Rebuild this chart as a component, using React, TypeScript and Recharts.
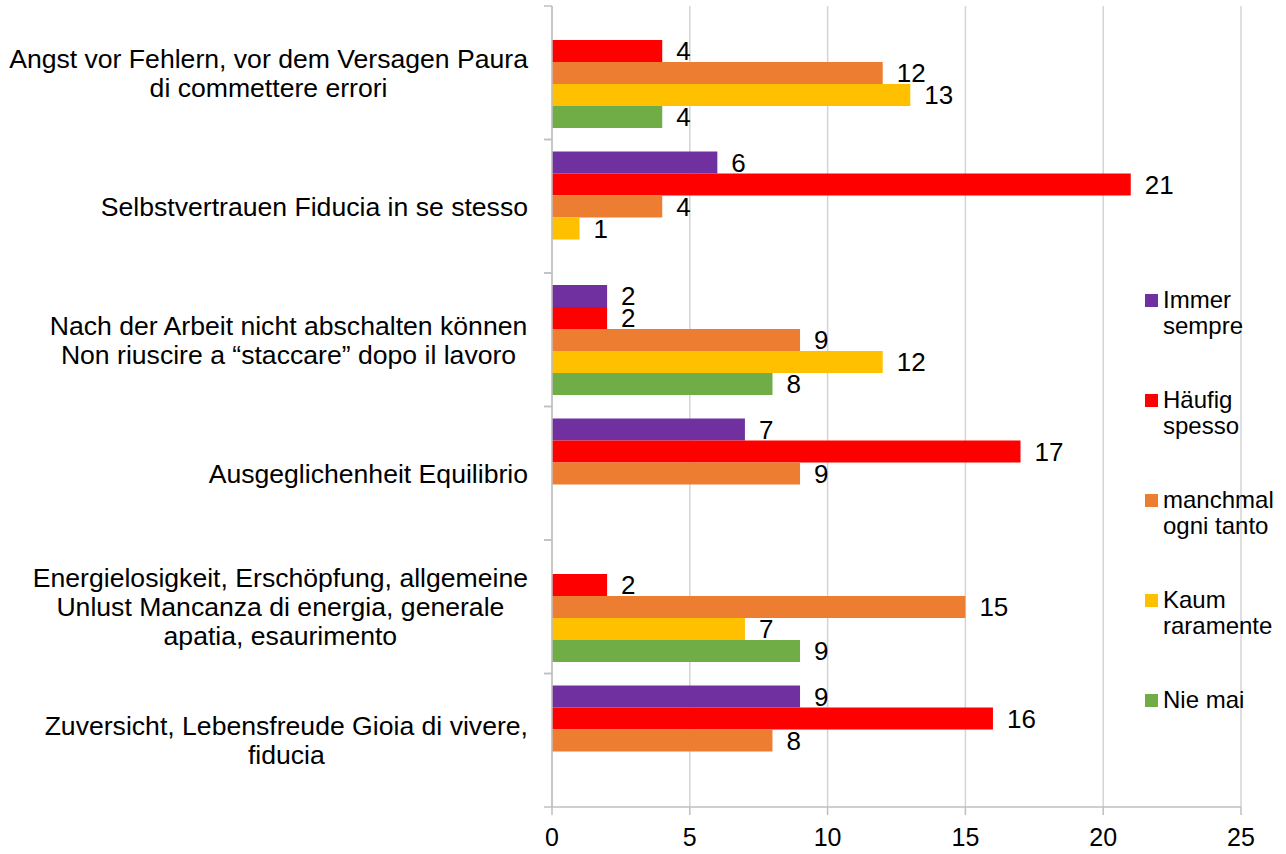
import React from "react";
import {
  BarChart,
  Bar,
  XAxis,
  YAxis,
  CartesianGrid,
  LabelList,
  Legend,
} from "recharts";

const categories = [
  "Angst vor Fehlern, vor dem Versagen Paura\ndi commettere errori",
  "Selbstvertrauen Fiducia in se stesso",
  "Nach der Arbeit nicht abschalten können\nNon riuscire a “staccare” dopo il lavoro",
  "Ausgeglichenheit Equilibrio",
  "Energielosigkeit, Erschöpfung, allgemeine\nUnlust Mancanza di energia, generale\napatia, esaurimento",
  "Zuversicht, Lebensfreude Gioia di vivere,\nfiducia",
];

const seriesNames = [
  "Immer sempre",
  "Häufig spesso",
  "manchmal ogni tanto",
  "Kaum raramente",
  "Nie mai",
];
const seriesColors = ["#7030A0", "#FF0000", "#ED7D31", "#FFC000", "#70AD47"];

const immer = [null, 6, 2, 7, null, 9];
const haeufig = [4, 21, 2, 17, 2, 16];
const manchmal = [12, 4, 9, 9, 15, 8];
const kaum = [13, 1, 12, null, 7, null];
const nie = [4, null, 8, null, 9, null];

const xTicks = [0, 5, 10, 15, 20, 25];

const seriesValues = [immer, haeufig, manchmal, kaum, nie];
const seriesKeys = ["s0", "s1", "s2", "s3", "s4"];

const data = categories.map((name, i) => {
  const row: any = { name };
  seriesKeys.forEach((k, j) => {
    row[k] = seriesValues[j][i];
  });
  return row;
});

const W = 1286;
const H = 854;
const MARGIN = { top: 6, right: 45, bottom: 0, left: 0 };
const Y_AXIS_W = 552;
const X_AXIS_H = 47;
const PLOT_H = H - MARGIN.top - MARGIN.bottom - X_AXIS_H;
const BAND = PLOT_H / categories.length;

const FONT = '"Liberation Sans", Arial, sans-serif';
const AXIS_COLOR = "#bfbfbf";
const GRID_COLOR = "#d4d4d4";
const CAT_FONT_SIZE = 26.6;
const LINE_H = 29;

let measureCtx: CanvasRenderingContext2D | null = null;
function measure(text: string): number {
  if (!measureCtx) {
    const c = document.createElement("canvas");
    measureCtx = c.getContext("2d");
  }
  if (!measureCtx) return text.length * CAT_FONT_SIZE * 0.5;
  measureCtx.font = `${CAT_FONT_SIZE}px "Liberation Sans", Arial, sans-serif`;
  return measureCtx.measureText(text).width;
}

const CategoryTick = (props: any) => {
  const { x, y, payload } = props;
  const lines: string[] = String(payload.value).split("\n");
  const maxW = Math.max(...lines.map(measure));
  const cx = x - maxW / 2;
  const startY = y - ((lines.length - 1) * LINE_H) / 2;
  const half = BAND / 2;
  return (
    <g>
      <line x1={x + 16} x2={x + 24} y1={y - half} y2={y - half} stroke={AXIS_COLOR} strokeWidth={1.5} />
      <line x1={x + 16} x2={x + 24} y1={y + half} y2={y + half} stroke={AXIS_COLOR} strokeWidth={1.5} />
      <text
        x={cx}
        y={startY}
        textAnchor="middle"
        fill="#000"
        fontSize={CAT_FONT_SIZE}
        fontFamily={FONT}
      >
        {lines.map((l, i) => (
          <tspan key={i} x={cx} y={startY + i * LINE_H} dy="0.35em">
            {l}
          </tspan>
        ))}
      </text>
    </g>
  );
};

const LegendContent = () => {
  return (
    <div style={{ fontFamily: FONT, fontSize: 24, lineHeight: "26px", color: "#000" }}>
      {seriesNames.map((name, i) => (
        <div key={i} style={{ height: 100, display: "flex", alignItems: "flex-start" }}>
          <div
            style={{
              width: 13,
              height: 13,
              marginTop: 7,
              background: seriesColors[i],
              flex: "0 0 13px",
            }}
          />
          <div style={{ marginLeft: 5, width: 118 }}>{name}</div>
        </div>
      ))}
    </div>
  );
};

export default function App() {
  return (
    <div style={{ position: "absolute", left: 0, top: 0, width: W, height: H, background: "#fff" }}>
      <BarChart
        width={W}
        height={H}
        data={data}
        layout="vertical"
        margin={MARGIN}
        barCategoryGap={12}
        barGap={0}
      >
        <CartesianGrid horizontal={false} stroke={GRID_COLOR} strokeWidth={1.5} />
        <XAxis
          type="number"
          domain={[0, 25]}
          ticks={xTicks}
          interval={0}
          height={X_AXIS_H}
          tickSize={8}
          tickMargin={13}
          tickLine={{ stroke: AXIS_COLOR, strokeWidth: 1.5 }}
          axisLine={{ stroke: AXIS_COLOR, strokeWidth: 1.5 }}
          tick={{ fill: "#000", fontSize: 25, fontFamily: FONT }}
        />
        <XAxis
          xAxisId="top"
          orientation="top"
          type="number"
          domain={[0, 25]}
          height={0}
          tick={false}
          tickLine={false}
          axisLine={{ stroke: AXIS_COLOR, strokeWidth: 1.5 }}
        />
        <YAxis
          type="category"
          dataKey="name"
          width={Y_AXIS_W}
          tickSize={8}
          tickMargin={16}
          tickLine={false}
          interval={0}
          axisLine={{ stroke: AXIS_COLOR, strokeWidth: 1.5 }}
          tick={<CategoryTick />}
        />
        <Legend
          layout="vertical"
          align="center"
          verticalAlign="middle"
          content={<LegendContent />}
          wrapperStyle={{ position: "absolute", left: 1145, top: 287, width: 141, height: 500 }}
        />
        {seriesKeys.map((k, j) => (
          <Bar
            key={k}
            dataKey={k}
            name={seriesNames[j]}
            fill={seriesColors[j]}
            isAnimationActive={false}
          >
            <LabelList
              dataKey={k}
              position="right"
              offset={14}
              fill="#000"
              fontSize={26}
              fontFamily={FONT}
            />
          </Bar>
        ))}
      </BarChart>
    </div>
  );
}
